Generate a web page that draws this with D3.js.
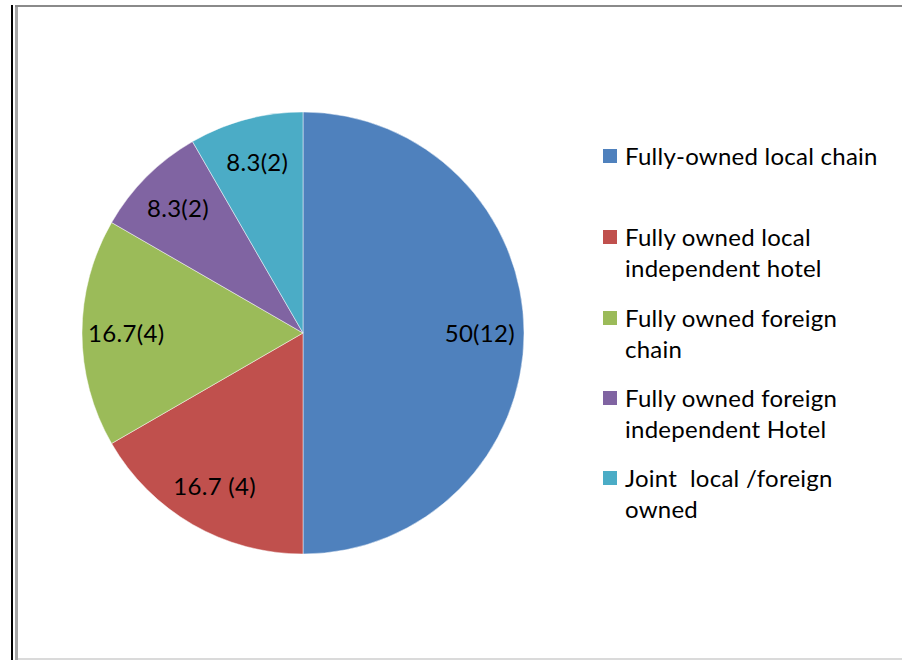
<!DOCTYPE html>
<html>
<head>
<meta charset="utf-8">
<script src="https://cdn.jsdelivr.net/npm/d3@7"></script>
<style>
  html, body { margin: 0; padding: 0; background: #fff; }
  svg { display: block; }
  text { font-family: Lato, "Open Sans", sans-serif; fill: #000; }
</style>
</head>
<body>
<svg id="chart" width="902" height="660"></svg>
<script>
// Ownership categories, in clockwise order from 12 o'clock
const categories = [
  ["Fully-owned local chain"],
  ["Fully owned local", "independent hotel"],
  ["Fully owned foreign", "chain"],
  ["Fully owned foreign", "independent Hotel"],
  ["Joint  local /foreign", "owned"]
];
const counts = [12, 4, 4, 2, 2];
const percents = [50, 16.7, 16.7, 8.3, 8.3];
const sliceLabels = ["50(12)", "16.7 (4)", "16.7(4)", "8.3(2)", "8.3(2)"];
const colors = ["#4F81BD", "#C0504D", "#9BBB59", "#8064A2", "#4BACC6"];

const svg = d3.select("#chart");
const W = 902, H = 660;

// Frame around the chart area
svg.append("rect").attr("x", 11).attr("y", 5).attr("width", 2).attr("height", H - 5).attr("fill", "#000");
svg.append("rect").attr("x", 15).attr("y", 5).attr("width", W - 15).attr("height", 2).attr("fill", "#8a8a8a");
svg.append("rect").attr("x", 15).attr("y", 7).attr("width", 3).attr("height", H - 7).attr("fill", "#a6a6a6");
svg.append("rect").attr("x", 18).attr("y", 658).attr("width", W - 18).attr("height", 2).attr("fill", "#dadada");

// Pie
const cx = 303, cy = 333, r = 221;
const data = counts.map((c, i) => ({ count: c, pct: percents[i], label: sliceLabels[i], color: colors[i] }));
const pie = d3.pie().sort(null).value(d => d.count);
const arcs = pie(data);
const arc = d3.arc().innerRadius(0).outerRadius(r);
const labelArc = d3.arc().innerRadius(r * 0.8).outerRadius(r * 0.8);

const g = svg.append("g").attr("transform", `translate(${cx},${cy})`);
g.selectAll("path.slice")
  .data(arcs)
  .join("path")
  .attr("class", "slice")
  .attr("d", arc)
  .attr("fill", d => d.data.color)
  .attr("stroke", "#ffffff")
  .attr("stroke-opacity", 0.6)
  .attr("stroke-width", 0.8);

g.selectAll("text.val")
  .data(arcs)
  .join("text")
  .attr("class", "val")
  .attr("transform", d => `translate(${labelArc.centroid(d)})`)
  .attr("text-anchor", "middle")
  .attr("dy", "0.36em")
  .style("font-size", "24px")
  .style("letter-spacing", "0.3px")
  .text(d => d.data.label);

// Legend
const legendY = [156, 237, 318, 398, 478];
const lg = svg.append("g");
categories.forEach((lines, i) => {
  const y0 = legendY[i];
  lg.append("rect")
    .attr("x", 603).attr("y", y0 - 7)
    .attr("width", 14).attr("height", 14)
    .attr("fill", colors[i]);
  const t = lg.append("text")
    .attr("x", 625).attr("y", y0)
    .style("font-size", "24px")
    .style("letter-spacing", "0.25px");
  lines.forEach((ln, j) => {
    t.append("tspan")
      .attr("x", 625)
      .attr("dy", j === 0 ? "0.36em" : "31.5px")
      .style("white-space", "pre")
      .text(ln);
  });
});
</script>
</body>
</html>
